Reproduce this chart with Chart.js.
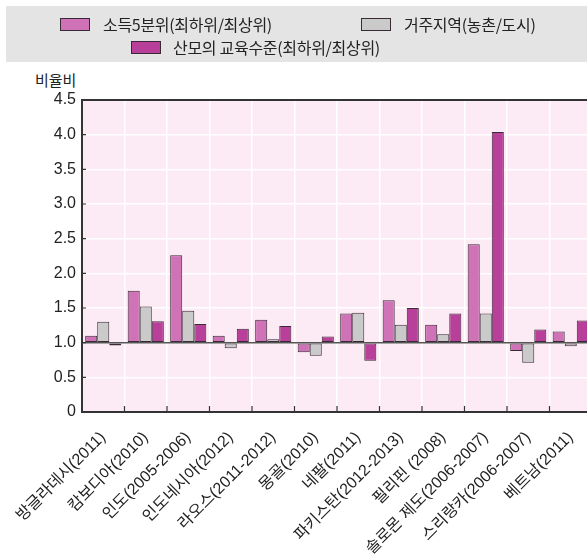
<!DOCTYPE html>
<html>
<head>
<meta charset="utf-8">
<script src="https://cdn.jsdelivr.net/npm/chart.js@4.4.1/dist/chart.umd.min.js"></script>
<style>
	body { margin: 0; width: 587px; height: 560px; overflow: hidden; background: #fff; font-family: 'Liberation Sans', 'Noto Sans CJK KR', sans-serif; }
	#wrap { position: absolute; left: 0; top: 0; width: 592px; height: 560px; }
	#legendBox { position: absolute; left: 6px; top: 6px; width: 590px; height: 56px; background: #e4e4e4; }
	.lg-box { position: absolute; width: 28px; height: 11px; border: 1px solid #3a2a35; }
	.lg-text { position: absolute; font-size: 16px; color: #222; line-height: 18px; white-space: nowrap; font-family: 'Noto Sans CJK KR', sans-serif; letter-spacing: -0.3px; }
	#ytitle { position: absolute; left: 35px; top: 69px; font-size: 15px; color: #222; font-family: 'Noto Sans CJK KR', sans-serif; }
</style>
</head>
<body>
<div id="legendBox"></div>
<div id="ytitle">비율비</div>
<div id="wrap"><canvas id="chart"></canvas></div>
<script>
const countries = ['방글라데시(2011)', '캄보디아(2010)', '인도(2005-2006)', '인도네시아(2012)', '라오스(2011-2012)', '몽골(2010)', '네팔(2011)', '파키스탄(2012-2013)', '필리핀 (2008)', '솔로몬 제도(2006-2007)', '스리랑카(2006-2007)', '베트남(2011)'];
const seriesNames = ['소득5분위(최하위/최상위)', '거주지역(농촌/도시)', '산모의 교육수준(최하위/최상위)'];
const income = [1.10, 1.75, 2.26, 1.10, 1.33, 0.86, 1.42, 1.61, 1.26, 2.42, 0.88, 1.16];
const residence = [1.30, 1.52, 1.46, 0.92, 1.05, 0.81, 1.43, 1.26, 1.12, 1.42, 0.71, 0.95];
const education = [0.96, 1.31, 1.27, 1.20, 1.24, 1.09, 0.74, 1.50, 1.42, 4.04, 1.19, 1.32];
const yTicks = [0, 0.5, 1.0, 1.5, 2.0, 2.5, 3.0, 3.5, 4.0, 4.5];

const colors = ['#d072b7', '#c9cac9', '#b83f9a'];

// Legend drawn as html so it can sit in the grey band like the original
const legendPos = [
	{ box: [60, 18], text: [103, 15] },
	{ box: [361, 18], text: [404, 15] },
	{ box: [131, 41], text: [173, 38] },
];
seriesNames.forEach((name, i) => {
	const box = document.createElement('div');
	box.className = 'lg-box';
	box.style.left = legendPos[i].box[0] + 'px';
	box.style.top = legendPos[i].box[1] + 'px';
	box.style.background = colors[i];
	document.body.appendChild(box);
	const txt = document.createElement('div');
	txt.className = 'lg-text';
	txt.style.left = legendPos[i].text[0] + 'px';
	txt.style.top = legendPos[i].text[1] + 'px';
	txt.textContent = name;
	document.body.appendChild(txt);
});

const plotDeco = {
	id: 'plotDeco',
	beforeDraw(chart) {
		const { ctx, chartArea: a } = chart;
		ctx.save();
		ctx.fillStyle = '#fcebf4';
		ctx.fillRect(a.left, a.top, a.right - a.left, a.bottom - a.top);
		ctx.restore();
	},
	afterDatasetsDraw(chart) {
		const { ctx, chartArea: a, scales } = chart;
		const y1 = scales.y.getPixelForValue(1);
		ctx.save();
		ctx.strokeStyle = '#555';
		ctx.lineWidth = 1.5;
		ctx.beginPath();
		ctx.moveTo(a.left, y1);
		ctx.lineTo(a.right, y1);
		ctx.stroke();
		ctx.restore();
	},
	afterDraw(chart) {
		const { ctx, chartArea: a, scales } = chart;
		ctx.save();
		ctx.strokeStyle = '#333';
		ctx.lineWidth = 2;
		ctx.beginPath();
		ctx.moveTo(a.left - 1, a.top);
		ctx.lineTo(a.right, a.top);
		ctx.stroke();
		// small inner ticks
		ctx.lineWidth = 1.2;
		ctx.beginPath();
		for (let i = 1; i < countries.length; i++) {
			const x = (scales.x.getPixelForValue(i - 1) + scales.x.getPixelForValue(i)) / 2;
			ctx.moveTo(x, a.bottom);
			ctx.lineTo(x, a.bottom - 6);
		}
		yTicks.forEach((v) => {
			const y = scales.y.getPixelForValue(v);
			ctx.moveTo(a.left, y);
			ctx.lineTo(a.left + 4, y);
		});
		ctx.stroke();
		ctx.restore();
	},
};

const ctx = document.getElementById('chart').getContext('2d');
new Chart(ctx, {
	type: 'bar',
	data: {
		labels: countries,
		datasets: [income, residence, education].map((vals, i) => ({
			label: seriesNames[i],
			data: vals,
			base: 1,
			backgroundColor: colors[i],
			borderColor: '#3a2a35',
			borderWidth: 1,
			borderSkipped: false,
			categoryPercentage: 0.85,
			barPercentage: 1.0,
		})),
	},
	options: {
		responsive: true,
		maintainAspectRatio: false,
		animation: false,
		layout: { padding: { top: 100, right: 0, left: 0, bottom: 0 } },
		plugins: {
			legend: { display: false },
			tooltip: { enabled: false },
		},
		scales: {
			x: {
				afterFit: (s) => {
					s.height = 148;
					s.paddingLeft = 0;
					s.paddingRight = 0;
				},
				grid: { color: '#ffffff', lineWidth: 1.5, drawTicks: false, offset: true },
				border: { color: '#333', width: 2 },
				ticks: {
					autoSkip: false,
					minRotation: 45,
					maxRotation: 45,
					padding: 16,
					color: '#222',
					font: { size: 16, family: "'Liberation Sans', 'Noto Sans CJK KR', sans-serif" },
				},
			},
			y: {
				min: 0,
				max: 4.5,
				afterFit: (s) => { s.width = 82; },
				afterBuildTicks: (s) => { s.ticks = yTicks.map((v) => ({ value: v })); },
				grid: { color: '#ffffff', lineWidth: 1.5, drawTicks: false },
				border: { color: '#333', width: 2 },
				ticks: {
					padding: 6,
					color: '#222',
					font: { size: 16, family: "'Liberation Sans', sans-serif" },
					callback: (v) => (v === 0 ? '0' : v.toFixed(1)),
				},
			},
		},
	},
	plugins: [plotDeco],
});
</script>
</body>
</html>
